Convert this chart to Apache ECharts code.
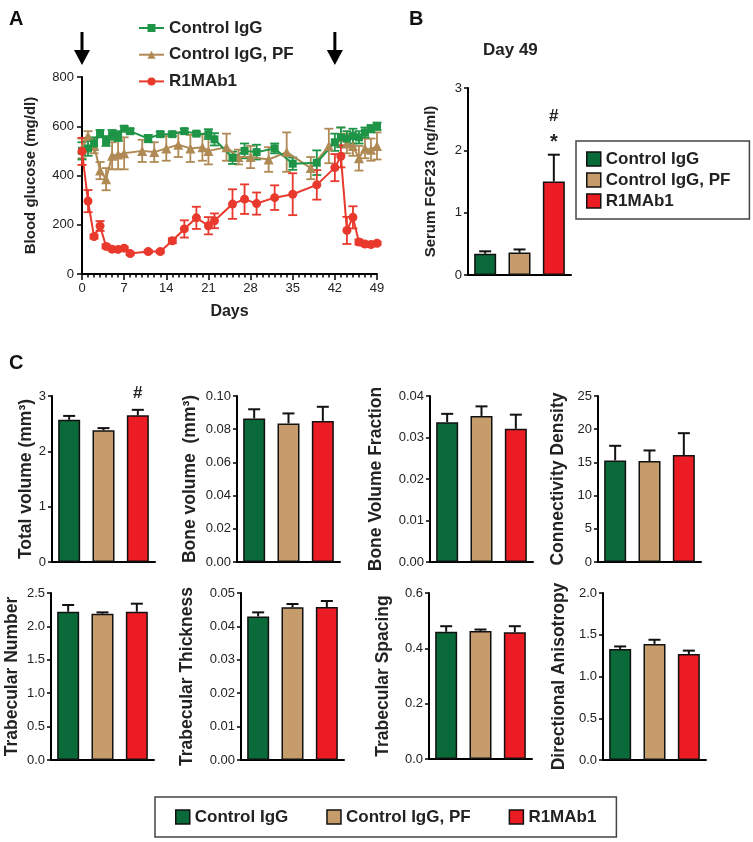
<!DOCTYPE html>
<html><head><meta charset="utf-8">
<script src="https://cdn.jsdelivr.net/npm/echarts@6/dist/echarts.min.js"></script>
<style>html,body{margin:0;padding:0;background:#fff}#c{width:753px;height:842px}</style>
</head><body><div id="c"></div>
<script>
// ---------------- DATA ----------------
const groupNames = ['Control IgG', 'Control IgG, PF', 'R1MAb1'];

// Panel A: blood glucose (mg/dl) vs days
const glucoseTicks = ['0', '200', '400', '600', '800'];
const dayTicks = ['0', '7', '14', '21', '28', '35', '42', '49'];
const arrowDays = [0, 42];

const iggDays = [0,1,2,3,4,5,6,7,8,11,13,15,17,19,21,22,25,27,29,32,35,39,42,43,44,45,46,47,48,49];
const iggGlucose = [500,510,530,570,540,565,560,590,580,550,568,568,580,570,568,547,472,500,495,510,448,452,535,555,550,560,555,575,590,600];
const iggSem = [35,30,25,15,20,20,20,10,10,15,10,8,10,8,20,25,25,30,30,20,25,50,35,40,30,30,25,20,15,15];

const pfDays = [0,1,2,3,4,5,6,7,10,12,14,16,18,20,21,24,26,28,31,34,38,41,43,44,45,46,47,48,49];
const pfGlucose = [510,560,520,420,385,480,485,490,500,495,510,525,510,515,500,515,475,475,465,495,430,520,555,530,520,470,510,505,520];
const pfSem = [40,20,30,35,45,55,60,65,45,40,50,50,55,55,55,55,30,45,50,80,45,70,40,40,40,50,40,45,55];

const r1Days = [0,1,2,3,4,5,6,7,8,11,13,15,17,19,21,22,25,27,29,32,35,39,42,43,44,45,46,47,48,49];
const r1Glucose = [498,296,152,195,112,101,100,105,83,91,91,135,183,228,196,216,284,304,286,310,324,362,432,478,177,230,130,122,120,125];
const r1Sem = [55,45,8,20,8,6,6,6,6,6,6,10,35,45,35,30,60,60,45,50,85,60,55,45,55,45,10,8,8,6];

// Panel B: serum FGF23 at day 49
const fgfTicks = ['0', '1', '2', '3'];
const fgfValues = [0.34, 0.36, 1.50];
const fgfSem = [0.04, 0.05, 0.43];
const fgfMarks = [[], [], ['*', '#']];

// Panel C: micro-CT
const tvTicks = ['0', '1', '2', '3'];
const tvValues = [2.57, 2.38, 2.65];
const tvSem = [0.07, 0.04, 0.10];
const tvMarks = [[], [], ['#']];

const bvTicks = ['0.00', '0.02', '0.04', '0.06', '0.08', '0.10'];
const bvValues = [0.0865, 0.0835, 0.0850];
const bvSem = [0.0055, 0.0060, 0.0085];

const bvfTicks = ['0.00', '0.01', '0.02', '0.03', '0.04'];
const bvfValues = [0.0337, 0.0352, 0.0321];
const bvfSem = [0.0020, 0.0023, 0.0034];

const connTicks = ['0', '5', '10', '15', '20', '25'];
const connValues = [15.3, 15.2, 16.1];
const connSem = [2.2, 1.6, 3.3];

const tbnTicks = ['0.0', '0.5', '1.0', '1.5', '2.0', '2.5'];
const tbnValues = [2.22, 2.19, 2.22];
const tbnSem = [0.10, 0.02, 0.12];

const tbthTicks = ['0.00', '0.01', '0.02', '0.03', '0.04', '0.05'];
const tbthValues = [0.0430, 0.0457, 0.0458];
const tbthSem = [0.0012, 0.0010, 0.0018];

const tbspTicks = ['0.0', '0.2', '0.4', '0.6'];
const tbspValues = [0.460, 0.463, 0.458];
const tbspSem = [0.020, 0.005, 0.022];

const daTicks = ['0.0', '0.5', '1.0', '1.5', '2.0'];
const daValues = [1.33, 1.39, 1.27];
const daSem = [0.03, 0.05, 0.04];

// ---------------- STYLE ----------------
const FONT = 'Liberation Sans, Arial, sans-serif';
const lineColors = ['#1e9447', '#b08a55', '#e8392c'];
const barColors = ['#0a6a3a', '#c69c6d', '#ec1c24'];
const lineKeys = ['aIgG', 'aPF', 'aR1'];

const chart = echarts.init(document.getElementById('c'));

const grids = [], xAxes = [], yAxes = [], series = [];

function tickAxis(ticks) {
  const nums = ticks.map(parseFloat);
  const min = nums[0], max = nums[nums.length - 1], interval = nums[1] - nums[0];
  return {
    min, max, interval,
    formatter: v => { const i = Math.round((v - min) / interval); return ticks[i] !== undefined ? ticks[i] : ''; }
  };
}

function axisBase() {
  return {
    axisLine: { show: true, onZero: false, lineStyle: { color: '#000', width: 2 } },
    axisTick: { show: true, inside: false, length: 5, lineStyle: { color: '#000', width: 1.5 } },
    splitLine: { show: false },
    axisLabel: { color: '#222', fontSize: 13, fontFamily: FONT, margin: 7 },
    nameTextStyle: { color: '#222', fontWeight: 'bold', fontFamily: FONT }
  };
}

// ---------- Panel A ----------
(function () {
  const gi = grids.length;
  grids.push({ left: 82, top: 77, width: 295, height: 197 });
  const xt = tickAxis(dayTicks), yt = tickAxis(glucoseTicks);
  const xa = axisBase();
  xa.gridIndex = gi; xa.type = 'value'; xa.min = xt.min; xa.max = xt.max; xa.interval = xt.interval;
  xa.axisTick.length = 6;
  xa.minorTick = { show: true, splitNumber: 7, length: 3.5, lineStyle: { color: '#000', width: 1.5 } };
  xa.minorSplitLine = { show: false };
  xa.axisLabel.formatter = xt.formatter; xa.axisLabel.margin = 8;
  xa.name = 'Days'; xa.nameLocation = 'middle'; xa.nameGap = 30; xa.nameTextStyle.fontSize = 16;
  xAxes.push(xa);
  const ya = axisBase();
  ya.gridIndex = gi; ya.type = 'value'; ya.min = yt.min; ya.max = yt.max; ya.interval = yt.interval;
  ya.axisLabel.formatter = yt.formatter; ya.axisLabel.margin = 8;
  ya.name = 'Blood glucose (mg/dl)'; ya.nameLocation = 'middle'; ya.nameGap = 44; ya.nameTextStyle.fontSize = 15;
  yAxes.push(ya);

  const sets = [
    [pfDays, pfGlucose, pfSem, 1, 'triangle', 10],
    [iggDays, iggGlucose, iggSem, 0, 'rect', 8],
    [r1Days, r1Glucose, r1Sem, 2, 'circle', 9]
  ];
  sets.forEach(([days, vals, sems, ci, sym, size]) => {
    const col = lineColors[ci];
    series.push({
      type: 'custom', xAxisIndex: gi, yAxisIndex: gi, silent: true,
      data: days.map((d, i) => [d, vals[i], sems[i]]),
      encode: { x: 0, y: 1 },
      renderItem: (params, api) => {
        const x = api.value(0), y = api.value(1), e = api.value(2);
        const t = api.coord([x, y + e]), b = api.coord([x, y - e]);
        const st = { stroke: col, lineWidth: 1.8 };
        return { type: 'group', children: [
          { type: 'line', shape: { x1: t[0], y1: t[1], x2: b[0], y2: b[1] }, style: st },
          { type: 'line', shape: { x1: t[0] - 4.5, y1: t[1], x2: t[0] + 4.5, y2: t[1] }, style: st },
          { type: 'line', shape: { x1: b[0] - 4.5, y1: b[1], x2: b[0] + 4.5, y2: b[1] }, style: st }
        ] };
      }
    });
    series.push({
      type: 'line', name: lineKeys[ci], xAxisIndex: gi, yAxisIndex: gi,
      data: days.map((d, i) => [d, vals[i]]),
      symbol: sym, symbolSize: size, showSymbol: true, showAllSymbol: true,
      lineStyle: { color: col, width: 2 }, itemStyle: { color: col, borderWidth: 0 },
      z: 3
    });
  });
})();

// ---------- Bar panels (B and C) ----------
function barPanel(left, top, height, name, nameGap, nameSize, ticks, values, sems, marks) {
  const gi = grids.length;
  grids.push({ left, top, width: 103, height });
  const yt = tickAxis(ticks);
  const xa = axisBase();
  xa.gridIndex = gi; xa.type = 'category'; xa.data = groupNames;
  xa.axisTick = { show: false }; xa.axisLabel = { show: false };
  xAxes.push(xa);
  const ya = axisBase();
  ya.gridIndex = gi; ya.type = 'value'; ya.min = yt.min; ya.max = yt.max; ya.interval = yt.interval;
  ya.axisTick.length = 4;
  ya.axisLabel.formatter = yt.formatter; ya.axisLabel.margin = 6;
  ya.name = name; ya.nameLocation = 'middle'; ya.nameGap = nameGap; ya.nameTextStyle.fontSize = nameSize;
  yAxes.push(ya);
  groupNames.forEach((g, i) => {
    series.push({
      type: 'bar', name: g, xAxisIndex: gi, yAxisIndex: gi,
      data: values.map((v, j) => (j === i ? v : '-')),
      barWidth: 22, barGap: '-100%',
      itemStyle: { color: barColors[i], borderColor: '#111', borderWidth: 1.5 }
    });
  });
  series.push({
    type: 'custom', xAxisIndex: gi, yAxisIndex: gi, silent: true, z: 4,
    data: values.map((v, i) => [i, v, sems[i]]),
    encode: { x: 0, y: 1 },
    renderItem: (params, api) => {
      const i = api.value(0), v = api.value(1), e = api.value(2);
      const p0 = api.coord([i, v]), p1 = api.coord([i, v + e]);
      const st = { stroke: '#111', lineWidth: 2 };
      const ch = [
        { type: 'line', shape: { x1: p0[0], y1: p0[1], x2: p1[0], y2: p1[1] }, style: st },
        { type: 'line', shape: { x1: p1[0] - 6, y1: p1[1], x2: p1[0] + 6, y2: p1[1] }, style: st }
      ];
      const mk = (marks && marks[params.dataIndex]) || [];
      mk.forEach((m, k) => {
        ch.push({ type: 'text', style: {
          text: m, x: p1[0], y: p1[1] - 8 - k * 22 + (m === '*' ? 6 : 0),
          align: 'center', verticalAlign: 'bottom',
          fontSize: m === '*' ? 20 : 17, fontWeight: 'bold', fontFamily: FONT, fill: '#222'
        } });
      });
      return { type: 'group', children: ch };
    }
  });
}

// Panel B
barPanel(468, 88, 187, 'Serum FGF23 (ng/ml)', 30, 15, fgfTicks, fgfValues, fgfSem, fgfMarks);
// Panel C row 1
barPanel(52, 396, 166, 'Total volume (mm³)', 12, 17.5, tvTicks, tvValues, tvSem, tvMarks);
barPanel(237, 396, 166, 'Bone volume  (mm³)', 38, 17.5, bvTicks, bvValues, bvSem, null);
barPanel(430, 396, 166, 'Bone Volume Fraction', 45, 17.5, bvfTicks, bvfValues, bvfSem, null);
barPanel(598, 396, 166, 'Connectivity Density', 31, 17.5, connTicks, connValues, connSem, null);
// Panel C row 2
barPanel(51, 593, 167, 'Trabecular Number', 30, 17.5, tbnTicks, tbnValues, tbnSem, null);
barPanel(241, 593, 167, 'Trabecular Thickness', 45, 17.5, tbthTicks, tbthValues, tbthSem, null);
barPanel(429, 593, 166, 'Trabecular Spacing', 37, 17.5, tbspTicks, tbspValues, tbspSem, null);
barPanel(603, 593, 167, 'Directional Anisotropy', 35, 17.5, daTicks, daValues, daSem, null);

const lineLabel = { aIgG: groupNames[0], aPF: groupNames[1], aR1: groupNames[2] };
const legTxt = { fontSize: 17, fontWeight: 'bold', color: '#222', fontFamily: FONT, lineHeight: 20 };

const option = {
  animation: false,
  textStyle: { fontFamily: FONT },
  title: [
    { text: 'A', left: 4, top: 4, textStyle: { fontSize: 20, fontWeight: 'bold', color: '#111', fontFamily: FONT } },
    { text: 'B', left: 404, top: 4, textStyle: { fontSize: 20, fontWeight: 'bold', color: '#111', fontFamily: FONT } },
    { text: 'C', left: 4, top: 348, textStyle: { fontSize: 20, fontWeight: 'bold', color: '#111', fontFamily: FONT } },
    { text: 'Day 49', left: 478, top: 37, textStyle: { fontSize: 17, fontWeight: 'bold', color: '#222', fontFamily: FONT } }
  ],
  legend: [
    { orient: 'vertical', left: 138, top: 18, padding: 0, itemGap: 6.7, itemWidth: 25, itemHeight: 10,
      data: lineKeys, formatter: n => lineLabel[n], selectedMode: false, textStyle: legTxt },
    { orient: 'vertical', left: 576, top: 141, padding: [8, 19, 8, 10], itemGap: 1, itemWidth: 14, itemHeight: 14,
      icon: 'rect', data: groupNames, selectedMode: false, textStyle: legTxt,
      itemStyle: { borderColor: '#111', borderWidth: 1.5 },
      borderColor: '#444', borderWidth: 1.5 },
    { orient: 'horizontal', left: 155, top: 797, padding: [10, 20, 10, 20], itemGap: 38, itemWidth: 14, itemHeight: 14,
      icon: 'rect', data: groupNames, selectedMode: false, textStyle: legTxt,
      itemStyle: { borderColor: '#111', borderWidth: 1.5 },
      borderColor: '#444', borderWidth: 1.5 }
  ],
  grid: grids,
  xAxis: xAxes,
  yAxis: yAxes,
  series: series
};
chart.setOption(option);

// arrows above panel A at the treatment days, positioned through the axis scale
const arrowTop = parseFloat(glucoseTicks[glucoseTicks.length - 1]);
const arrows = arrowDays.map(d => {
  const p = chart.convertToPixel({ gridIndex: 0 }, [d, arrowTop]);
  return { type: 'group', children: [
    { type: 'line', shape: { x1: p[0], y1: p[1] - 45, x2: p[0], y2: p[1] - 26 }, style: { stroke: '#000', lineWidth: 3 } },
    { type: 'polygon', shape: { points: [[p[0] - 8, p[1] - 27], [p[0] + 8, p[1] - 27], [p[0], p[1] - 12]] }, style: { fill: '#000' } }
  ] };
});
chart.setOption({ graphic: arrows });
</script>
</body></html>
